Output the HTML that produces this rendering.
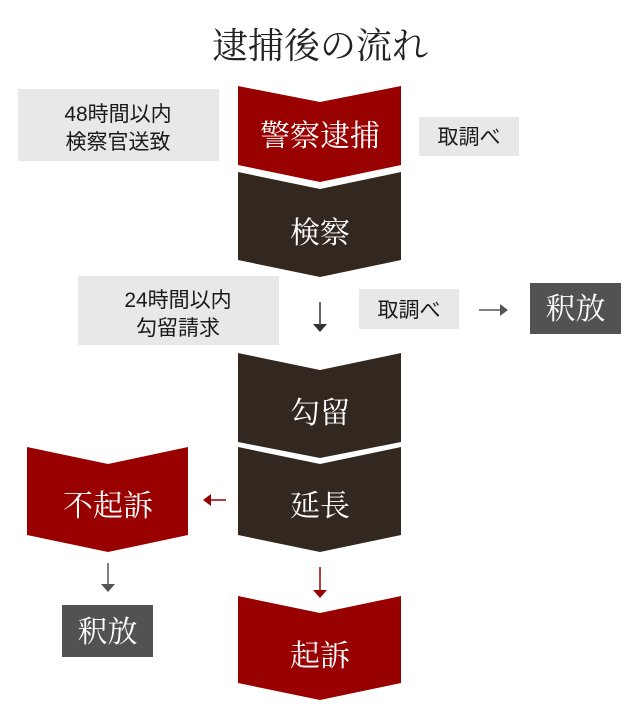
<!DOCTYPE html>
<html><head><meta charset="utf-8"><style>
html,body{margin:0;padding:0;background:#fff;}
svg{display:block;}
.t{font-family:"Liberation Serif","Noto Serif CJK SC",serif;fill:#fff;font-size:30px;text-anchor:middle;}
.s{font-family:"Liberation Sans","Noto Sans CJK JP",sans-serif;fill:#1a1a1a;font-size:21px;text-anchor:middle;}
</style></head><body>
<svg width="640" height="720" viewBox="0 0 640 720" xmlns="http://www.w3.org/2000/svg">
<text x="320" y="58" text-anchor="middle" font-family="Liberation Serif,'Noto Serif CJK SC',serif" font-size="36" fill="#222">逮捕後の流れ</text>

<rect x="18" y="89" width="201" height="72" fill="#e8e8e8"/>
<text class="s" x="118" y="121">48時間以内</text>
<text class="s" x="118" y="149">検察官送致</text>
<rect x="419" y="117" width="100" height="39" fill="#e8e8e8"/>
<text class="s" x="469" y="144">取調べ</text>
<rect x="78" y="276" width="201" height="69" fill="#e8e8e8"/>
<text class="s" x="178" y="307">24時間以内</text>
<text class="s" x="178" y="335">勾留請求</text>
<rect x="359" y="289" width="100" height="40" fill="#e8e8e8"/>
<text class="s" x="409" y="317">取調べ</text>
<rect x="530" y="283" width="91" height="51" fill="#525252"/>
<text class="t" x="575.5" y="319">釈放</text>
<rect x="62" y="605" width="91" height="52" fill="#525252"/>
<text class="t" x="107.5" y="642">釈放</text>

<polygon points="238,86 320,102 401,86 401,165 320,182 238,165" fill="#990000"/>
<text class="t" x="320" y="146">警察逮捕</text>
<polygon points="238,172 320,189 401,172 401,260 320,277 238,260" fill="#332820"/>
<text class="t" x="320" y="243">検察</text>
<polygon points="238,353 320,370 401,353 401,442 320,458 238,442" fill="#332820"/>
<text class="t" x="320" y="423">勾留</text>
<polygon points="238,447 320,464 401,447 401,535 320,552 238,535" fill="#332820"/>
<text class="t" x="320" y="516">延長</text>
<polygon points="27,447 108,464 188,447 188,535 108,552 27,535" fill="#990000"/>
<text class="t" x="108" y="516">不起訴</text>
<polygon points="238,596 320,613 401,596 401,683 320,700 238,683" fill="#990000"/>
<text class="t" x="320" y="666">起訴</text>

<line x1="320" y1="302" x2="320" y2="330" stroke="#333" stroke-width="1.5"/>
<polygon points="313,324 327,324 320,332" fill="#333"/>
<line x1="479" y1="310" x2="506" y2="310" stroke="#555" stroke-width="1.5"/>
<polygon points="500,304 500,316 508,310" fill="#555"/>
<line x1="205" y1="500" x2="226" y2="500" stroke="#990000" stroke-width="1.5"/>
<polygon points="211,494 211,506 203,500" fill="#990000"/>
<line x1="108" y1="563" x2="108" y2="590" stroke="#555" stroke-width="1.5"/>
<polygon points="101,584 115,584 108,592" fill="#555"/>
<line x1="320" y1="567" x2="320" y2="596" stroke="#990000" stroke-width="1.5"/>
<polygon points="313,590 327,590 320,598" fill="#990000"/>
</svg>
</body></html>
